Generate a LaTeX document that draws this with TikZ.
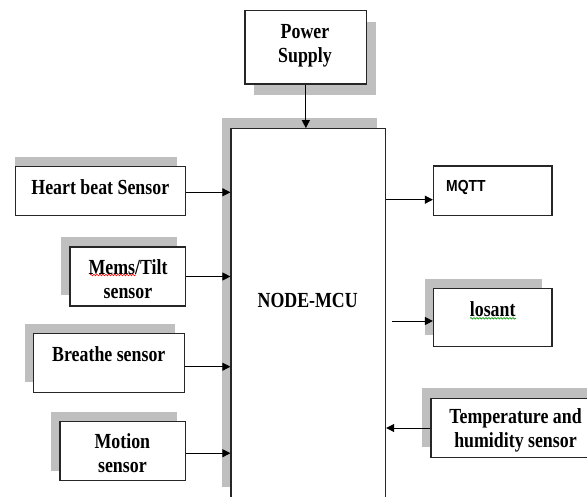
\documentclass[tikz,border=0pt]{standalone}
\usepackage{fontspec}
\setmainfont{Liberation Serif}
\newfontfamily\tnr[FakeStretch=0.83]{Liberation Serif}
\newfontfamily\arl[FakeStretch=0.87]{Liberation Sans}
\usetikzlibrary{arrows.meta,decorations.pathmorphing}
\begin{document}
\begin{tikzpicture}[x=1pt,y=-1pt,
  blk/.style={draw=black!85, line width=1.2pt, fill=white, inner sep=0pt},
  shd/.style={fill=black!25},
  lbl/.style={font=\tnr\bfseries\fontsize{21.5}{24}\selectfont, align=center, inner sep=0pt},
  conn/.style={line width=1pt, draw=black, -{Triangle[length=8pt,width=8pt]}},
  wavy/.style={line width=0.6pt, decorate, decoration={snake, segment length=3pt, amplitude=0.8pt}}
]
\clip (0,0) rectangle (587,496);
\fill[white] (0,0) rectangle (587,496);
% shadows
\fill[shd] (253.5,21.7) rectangle (375.5,95);
\fill[shd] (221.6,118.3) rectangle (377,486.7);
\fill[shd] (15.3,157.3) rectangle (176.7,207);
\fill[shd] (61,237.3) rectangle (176.7,295);
\fill[shd] (24.7,323.7) rectangle (175.2,382.3);
\fill[shd] (50.5,412.3) rectangle (176.7,470.7);
\fill[shd] (425,279.3) rectangle (542,335);
\fill[shd] (422.3,388.3) rectangle (600,446.7);
% boxes
\node[blk, minimum width=121.7pt, minimum height=73.3pt] (ps) at (305.85,47.35) {};
\node[blk, minimum width=154.6pt, minimum height=391.3pt] (mcu) at (308.3,324.35) {};
\node[blk, minimum width=170pt, minimum height=49.4pt] (heart) at (100.3,191) {};
\node[blk, minimum width=115.3pt, minimum height=59pt] (mems) at (127.65,276.5) {};
\node[blk, minimum width=150.9pt, minimum height=59pt] (breathe) at (108.75,363.2) {};
\node[blk, minimum width=125.3pt, minimum height=59pt] (motion) at (122.65,451.2) {};
\node[blk, minimum width=118.4pt, minimum height=49.7pt] (mqtt) at (492.7,190.85) {};
\node[blk, minimum width=118.4pt, minimum height=58pt] (losant) at (492.7,317.7) {};
\node[blk, minimum width=169pt, minimum height=59.4pt] (temp) at (515.5,428) {};
% texts
\node[lbl] (tps) at (305,45.3) {Power\\Supply};
\node[lbl] (tmcu) at (307.7,300) {NODE-MCU};
\node[lbl] (theart) at (100.3,186.7) {Heart beat Sensor};
\node[lbl] (tmems) at (128,278.7) {Mems/Tilt\\sensor};
\node[lbl] (tbreathe) at (108.8,354) {Breathe sensor};
\node[lbl] (tmotion) at (122.4,453.3) {Motion\\sensor};
\node[lbl] (tlosant) at (492.7,309.3) {losant};
\node[lbl] (ttemp) at (515.5,430.3) {Temperature and\\humidity sensor};
\node[font=\arl\bfseries\fontsize{16}{18}\selectfont, inner sep=0pt, anchor=west] (tmqtt) at (446,187.7) {MQTT};
% spell-check marks
\draw[wavy, red] (90,275) -- (135.5,275);
\draw[wavy, green!60!black] (470,318.3) -- (516,318.3);
% connectors
\draw[conn] (ps.south) -- (ps.south |- mcu.north);
\draw[conn] ([yshift=-1.3pt]heart.east) -- ([yshift=-1.3pt]heart.east -| mcu.west);
\draw[conn] (mems.east) -- (mems.east -| mcu.west);
\draw[conn] ([yshift=-3.5pt]breathe.east) -- ([yshift=-3.5pt]breathe.east -| mcu.west);
\draw[conn] ([yshift=-2pt]motion.east) -- ([yshift=-2pt]motion.east -| mcu.west);
\coordinate (m1) at ([yshift=-8.85pt]mqtt.west);
\draw[conn] (m1 -| mcu.east) -- (m1);
\coordinate (l0) at (392,321);
\draw[conn] (l0) -- (l0 -| losant.west);
\draw[conn] (temp.west) -- (temp.west -| mcu.east);
\end{tikzpicture}
\end{document}
